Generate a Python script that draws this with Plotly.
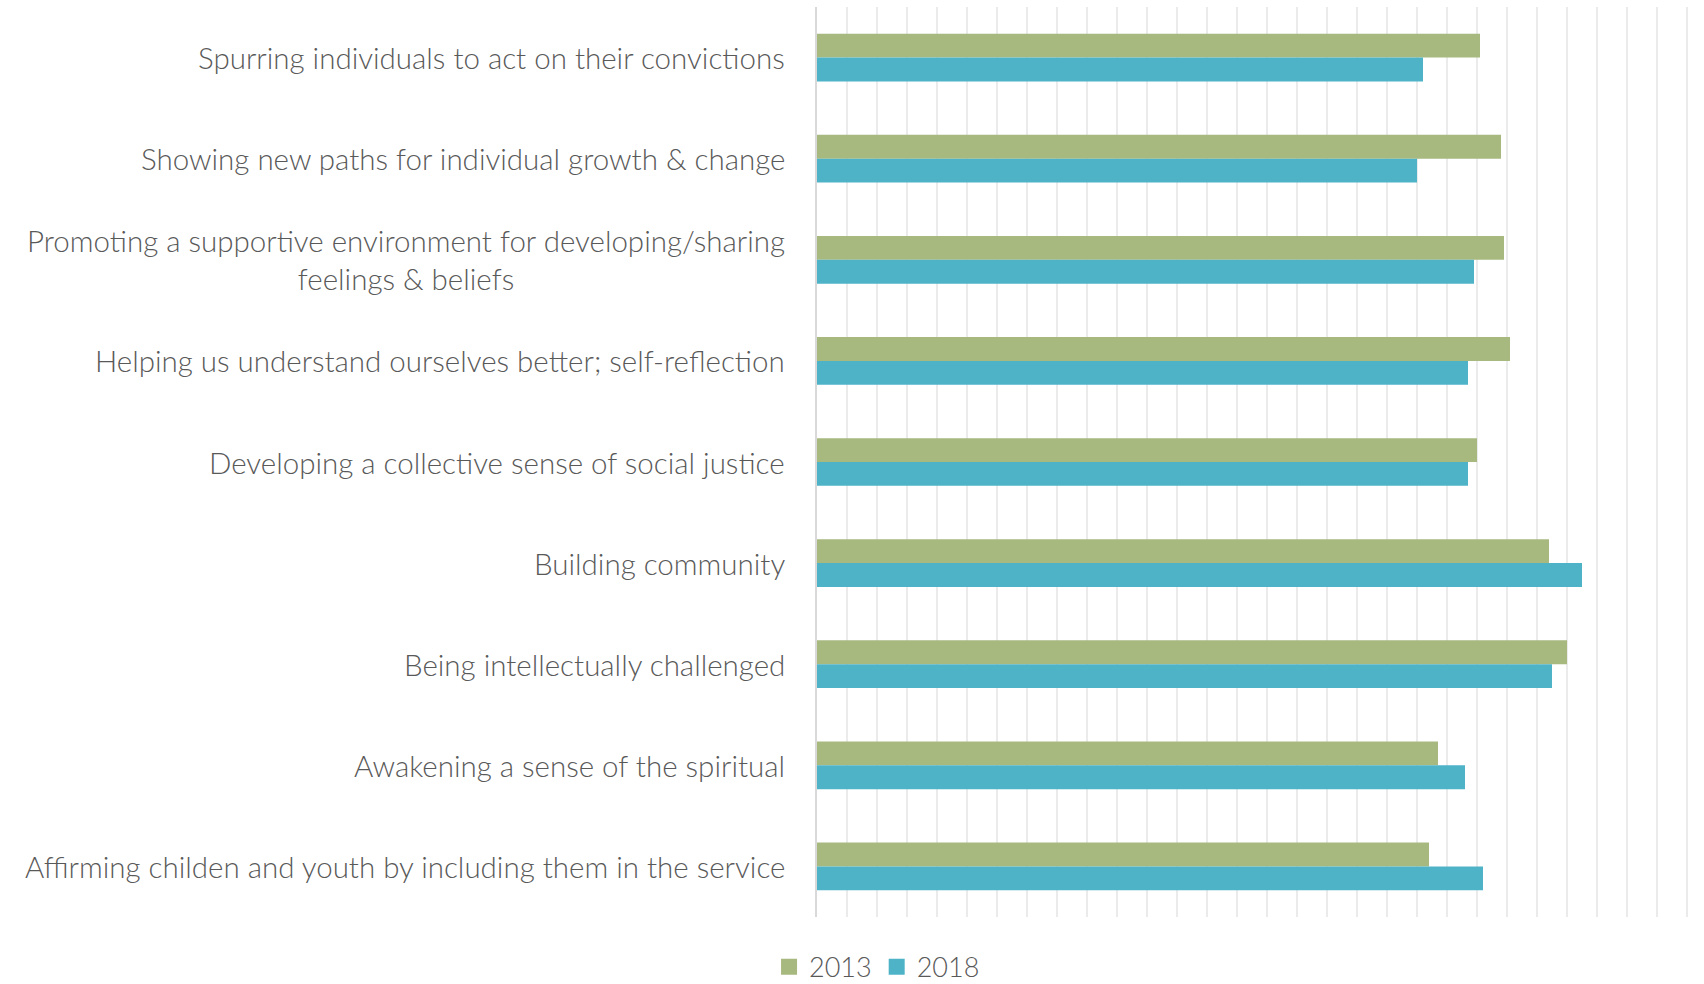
import plotly.graph_objects as go

categories = [
    "Spurring individuals to act on their convictions",
    "Showing new paths for individual growth & change",
    "Promoting a supportive environment for developing/sharing<br>feelings & beliefs",
    "Helping us understand ourselves better; self-reflection",
    "Developing a collective sense of social justice",
    "Building community",
    "Being intellectually challenged",
    "Awakening a sense of the spiritual",
    "Affirming childen and youth by including them in the service",
]
v2013 = [22.1, 22.8, 22.9, 23.1, 22.0, 24.4, 25.0, 20.7, 20.4]
v2018 = [20.2, 20.0, 21.9, 21.7, 21.7, 25.5, 24.5, 21.6, 22.2]
series_names = ["2013", "2018"]
colors = ["#A7B97F", "#4FB3C8"]

FONT = "Lato, 'Open Sans', sans-serif"
TEXT = "#595959"

fig = go.Figure()
for name, vals, col in zip(series_names, [v2013, v2018], colors):
    fig.add_trace(go.Bar(
        y=categories, x=vals, name=name, orientation="h",
        marker=dict(color=col, line=dict(width=0)), showlegend=False,
    ))
# legend entries with larger square swatches
for name, col in zip(series_names, colors):
    fig.add_trace(go.Scatter(
        x=[None], y=[None], mode="markers", name=name,
        marker=dict(symbol="square", size=17, color=col),
    ))

for c in categories:
    fig.add_annotation(
        x=0, y=c, xref="paper", yref="y", text=c, showarrow=False,
        xanchor="right", yanchor="middle", align="center", xshift=-30,
        font=dict(family=FONT, size=29.5, color=TEXT, weight=300),
    )

fig.update_layout(
    width=1704, height=984,
    margin=dict(l=817, r=14, t=7, b=67),
    plot_bgcolor="white", paper_bgcolor="white",
    barmode="group", bargap=0.528, bargroupgap=0,
    font=dict(family=FONT, color=TEXT),
    showlegend=True,
    legend=dict(
        orientation="h", xref="container", yref="container",
        x=0.5147, xanchor="center", y=0.017, yanchor="middle",
        font=dict(family=FONT, size=27, color=TEXT, weight=300),
        traceorder="normal", itemwidth=30,
    ),
    xaxis=dict(
        range=[0, 29.1], dtick=1, showticklabels=False, showgrid=True,
        gridcolor="#EBEBEB", gridwidth=1.5, zeroline=False,
        showline=False, ticks="",
    ),
    yaxis=dict(
        autorange="reversed", showticklabels=False, showgrid=False,
        showline=True, linecolor="#D9D9D9", linewidth=1.5, ticks="",
        zeroline=False,
    ),
)

fig.write_html("out.html")
